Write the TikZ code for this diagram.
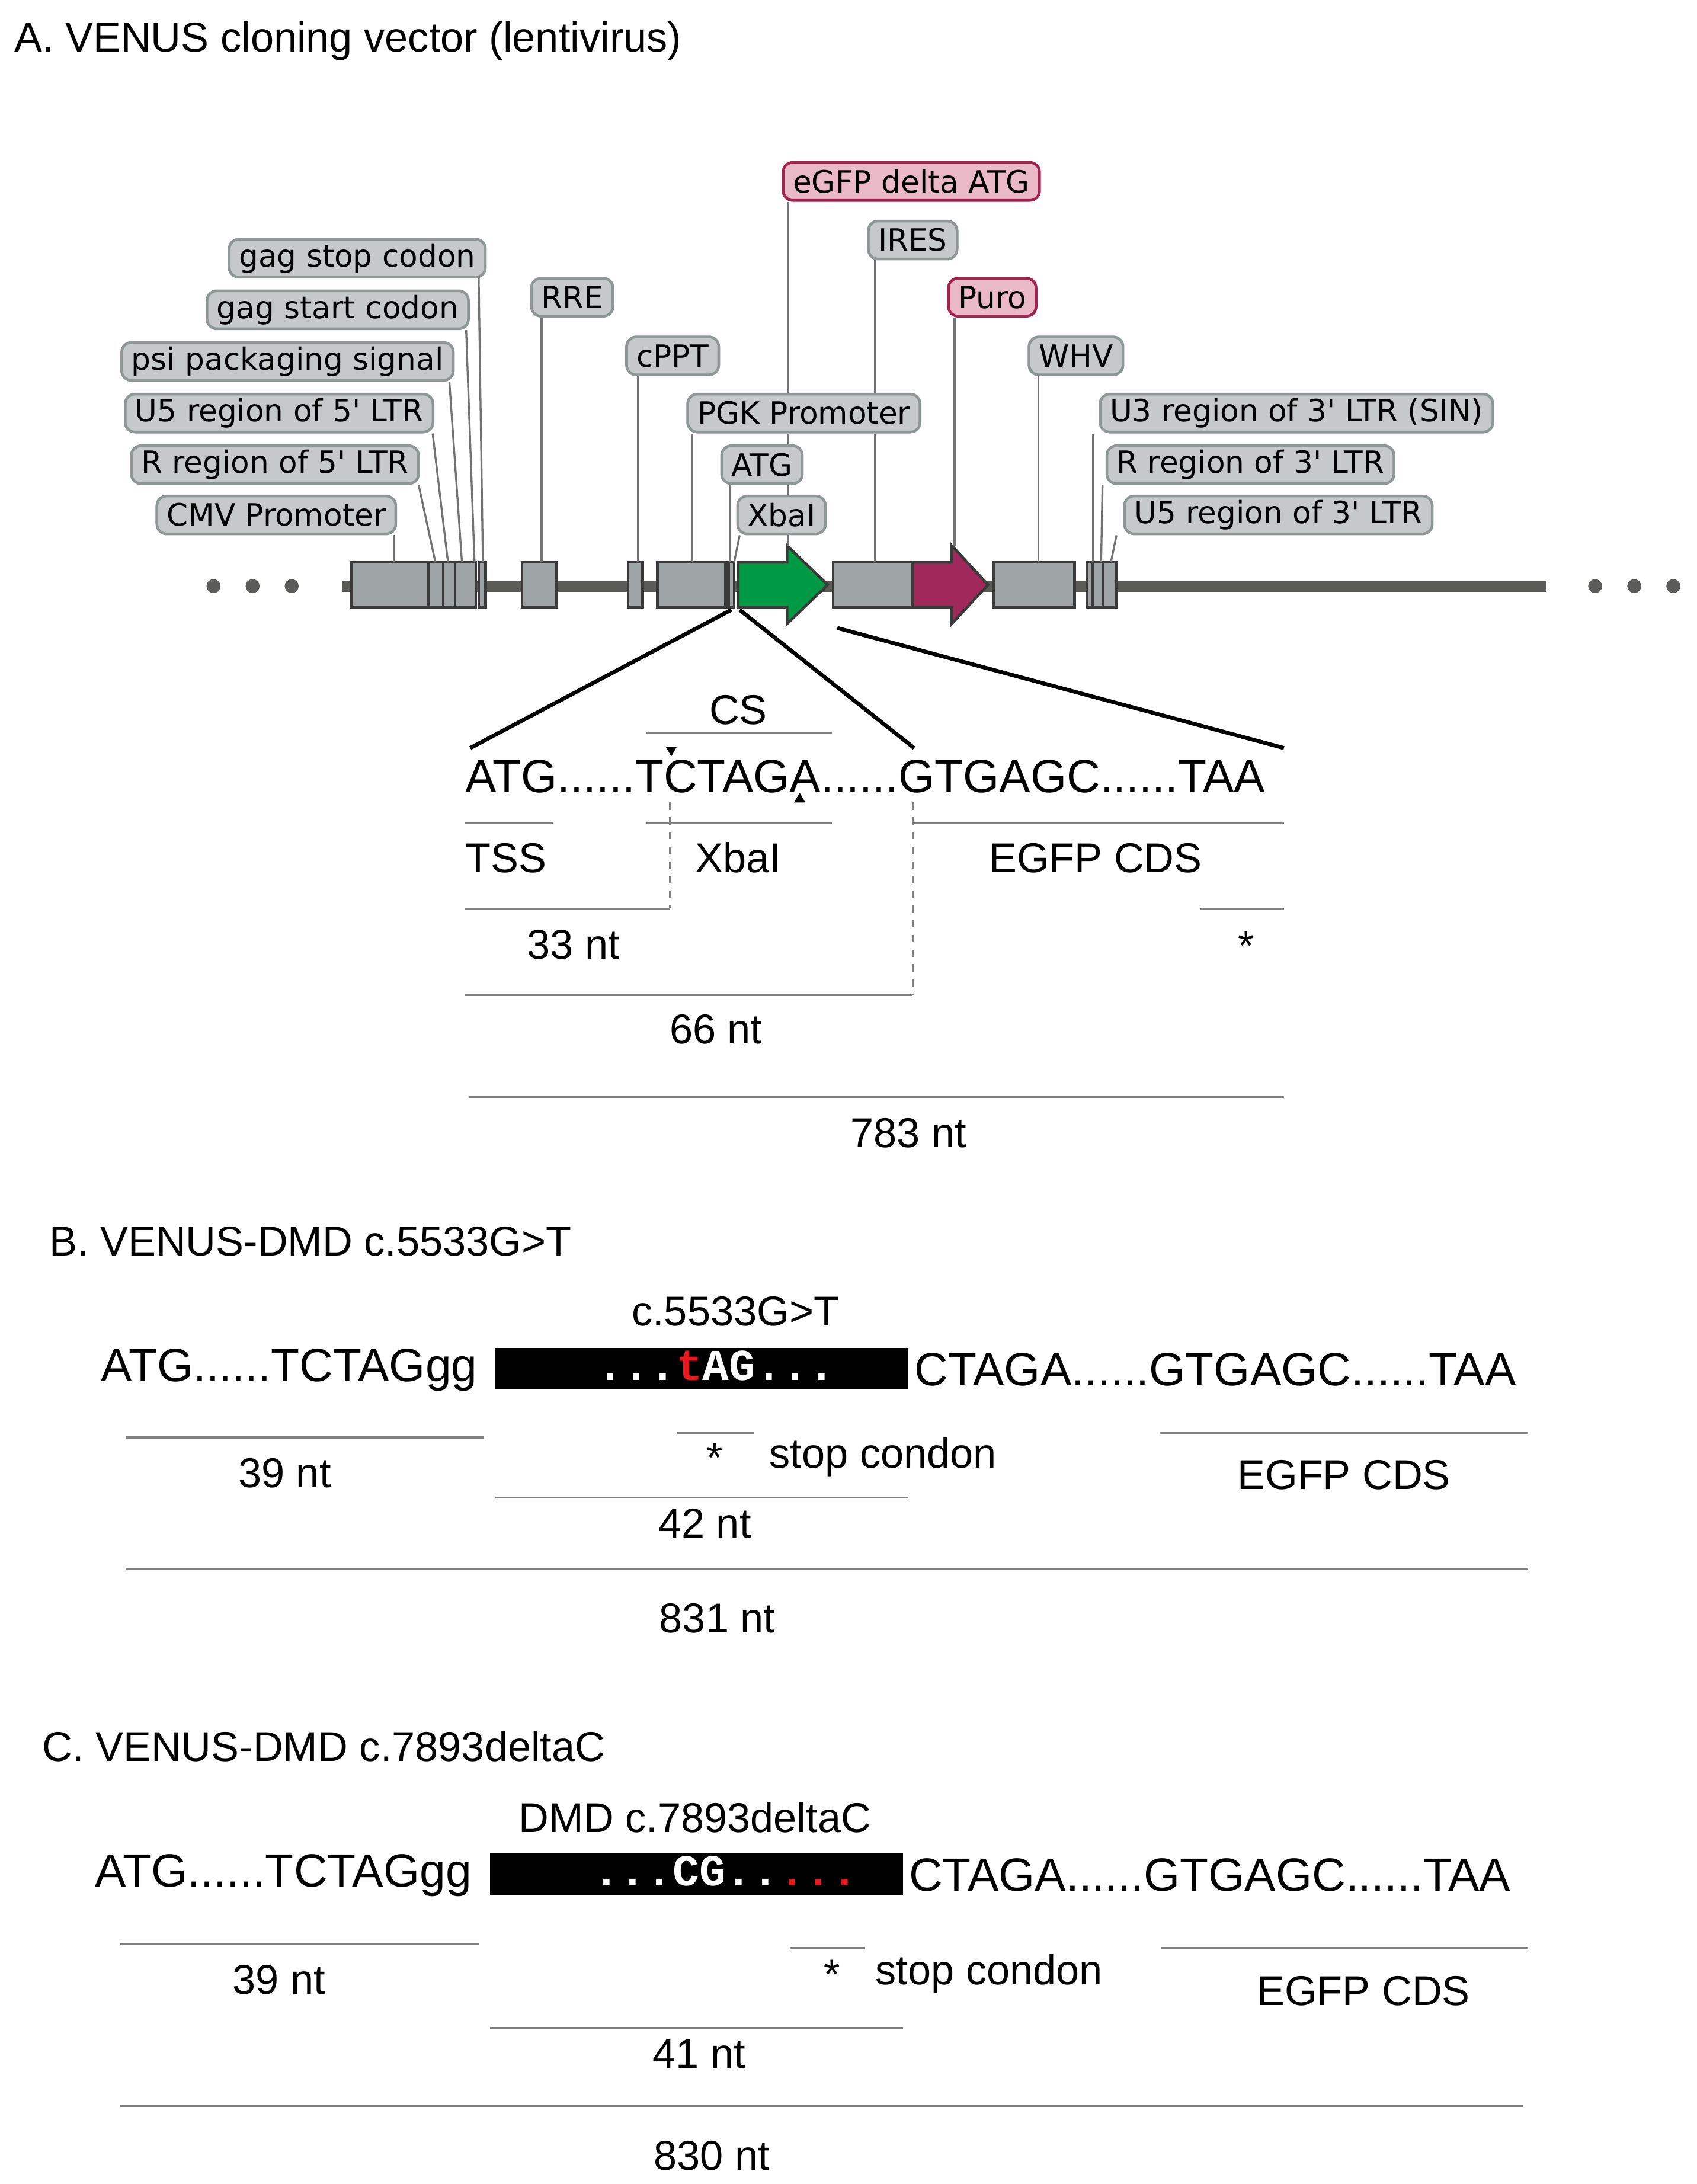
\documentclass[tikz,border=0pt]{standalone}
\usepackage{fontspec}
\setmainfont{Liberation Sans}
\newfontfamily\labfont{DejaVu Sans}
\newfontfamily\monofont{Liberation Mono}
\definecolor{lfill}{HTML}{C6C9C9}
\definecolor{ldraw}{HTML}{8E9696}
\definecolor{pfill}{HTML}{EAB9C7}
\definecolor{pdraw}{HTML}{A3234F}
\definecolor{fgray}{HTML}{9EA4A6}
\definecolor{fdark}{HTML}{3A3A3A}
\definecolor{bb}{HTML}{5B5C57}
\definecolor{egfp}{HTML}{009A44}
\definecolor{puro}{HTML}{A0285A}
\definecolor{rl}{HTML}{E8191F}
\begin{document}
\begin{tikzpicture}[x=0.02cm,y=-0.02cm,
  lab/.style={draw=ldraw,fill=lfill,line width=1.1pt,rounded corners=4pt,font=\labfont\fontsize{12.5}{14}\selectfont,inner xsep=4pt,minimum height=15.5pt,inner ysep=0pt},
  plab/.style={lab,draw=pdraw,fill=pfill},
  lead/.style={draw=gray!90!black,line width=0.8pt},
  feat/.style={draw=fdark,fill=fgray,line width=1.1pt},
  zoomln/.style={line width=1.6pt},
  gl/.style={draw=gray,line width=0.8pt},
  txt/.style={font=\fontsize{17}{20}\selectfont,inner sep=0pt},
  seq/.style={font=\fontsize{19}{22}\selectfont,inner sep=0pt},
  box/.style={font=\monofont\bfseries\fontsize{18}{20}\selectfont,text=white,inner sep=0pt}]
\useasboundingbox (0,0) rectangle (1216,1565);
% title
\node[txt,anchor=base west] (ta) at (10,37) {A. VENUS cloning vector (lentivirus)};
% backbone
\draw[bb,line width=4.5pt] (245,420) coordinate (bbl) -- (1108,420) coordinate (bbr);
\foreach \x/\n in {153/d1,181/d2,209/d3,1143/d4,1171/d5,1199/d6}
  \fill[bb] (\x,420) circle (5) coordinate (\n);
% features
\draw[feat] (252,403) rectangle (307,435);
\draw[feat] (307,403) rectangle (317.5,435);
\draw[feat] (317.5,403) rectangle (326,435);
\draw[feat] (326,403) rectangle (341,435);
\draw[feat] (343,403) rectangle (348,435);
\draw[feat] (374,403) rectangle (399,435);
\draw[feat] (450,403) rectangle (460.5,435);
\draw[feat] (471,403) rectangle (520,435);
\draw[feat] (522,403) rectangle (526,435);
\draw[fdark,fill=egfp,line width=1.1pt] (529,403) -- (564,403) -- (564,391) -- (593,419) -- (564,447) -- (564,435) -- (529,435) -- cycle;
\draw[feat] (597,403) rectangle (654,435);
\draw[fdark,fill=puro,line width=1.1pt] (654,403) -- (682,403) -- (682,391) -- (708,419) -- (682,447) -- (682,435) -- (654,435) -- cycle;
\draw[feat] (712,403) rectangle (770,435);
\draw[feat] (779,403) rectangle (800,435);
\draw[fdark,line width=0.9pt] (783,403) -- (783,435) (790.5,403) -- (790.5,435);
% labels
\node[lab] (gstop) at (256,185) {gag stop codon};
\node[lab] (gstart) at (242,222) {gag start codon};
\node[lab] (psi) at (206,259) {psi packaging signal};
\node[lab] (u5a) at (200,296) {U5 region of 5' LTR};
\node[lab] (ra) at (197,333) {R region of 5' LTR};
\node[lab] (cmv) at (198,369) {CMV Promoter};
\node[lab] (rre) at (410,213) {RRE};
\node[lab] (cppt) at (482,255) {cPPT};
\node[lab] (pgk) at (576,296) {PGK Promoter};
\node[lab] (atg) at (546,333) {ATG};
\node[lab] (xba) at (560,369) {XbaI};
\node[plab] (egl) at (653,130) {eGFP delta ATG};
\node[lab] (ires) at (654,172) {IRES};
\node[plab] (purol) at (711,213) {Puro};
\node[lab] (whv) at (771,255) {WHV};
\node[lab] (u3b) at (929,296) {U3 region of 3' LTR (SIN)};
\node[lab] (rb) at (896,333) {R region of 3' LTR};
\node[lab] (u5b) at (916,369) {U5 region of 3' LTR};
% leaders
\draw[lead] (cmv.south -| 282,0) -- (282,403);
\draw[lead] (ra.south -| 300,0) -- (312,403);
\draw[lead] (u5a.south -| 310,0) -- (321,403);
\draw[lead] (psi.south -| 322,0) -- (331,403);
\draw[lead] (gstart.south -| 334,0) -- (340,403);
\draw[lead] (gstop.south -| 343,0) -- (346,403);
\draw[lead] (rre.south -| 388,0) -- (388,403);
\draw[lead] (cppt.south -| 457,0) -- (457,403);
\draw[lead] (pgk.south -| 496,0) -- (496,403);
\draw[lead] (atg.south -| 523,0) -- (523,403);
\draw[lead] (xba.south -| 530,0) -- (526,403);
\draw[lead] (egl.south -| 565,0) -- (pgk.north -| 565,0);
\draw[lead] (pgk.south -| 565,0) -- (atg.north -| 565,0);
\draw[lead] (atg.south -| 565,0) -- (xba.north -| 565,0);
\draw[lead] (xba.south -| 565,0) -- (565,391);
\draw[lead] (ires.south -| 627,0) -- (pgk.north -| 627,0);
\draw[lead] (pgk.south -| 627,0) -- (627,403);
\draw[lead] (purol.south -| 684,0) -- (684,391);
\draw[lead] (whv.south -| 744,0) -- (744,403);
\draw[lead] (u3b.south -| 783,0) -- (783,403);
\draw[lead] (rb.south -| 790,0) -- (789,403);
\draw[lead] (u5b.south -| 800,0) -- (796,403);
% zoom lines
\draw[zoomln] (524,437) -- (337,536);
\draw[zoomln] (530,437) -- (655,536);
\draw[zoomln] (600,450) -- (920,536);
% sequence A
\node[seq,anchor=base west] (sa) at (333,568) {ATG......TCTAGA......GTGAGC......TAA};
\node[txt,anchor=base] (cs) at (529,519) {CS};
\draw[gl] (463,525) -- (596,525);
\fill (477,535) -- (485,535) -- (481,542) -- cycle;
\fill (569,575) -- (577,575) -- (573,568) -- cycle;
\draw[gl] (333,590) -- (396,590);
\draw[gl] (463,590) -- (596,590);
\draw[gl] (655,590) -- (920,590);
\node[txt,anchor=base west] (tss) at (333,625) {TSS};
\node[txt,anchor=base] (xbat) at (529,625) {XbaI};
\node[txt,anchor=base] (egA) at (785,625) {EGFP CDS};
\draw[gl,dashed] (480,575) -- (480,651);
\draw[gl] (333,651) -- (480,651);
\draw[gl] (860,651) -- (920,651);
\node[txt,anchor=base] (n33) at (411,687) {33 nt};
\node[txt,anchor=base] (stA) at (893,688) {*};
\draw[gl,dashed] (654,575) -- (654,713);
\draw[gl] (333,713) -- (654,713);
\node[txt,anchor=base] (n66) at (513,748) {66 nt};
\draw[gl] (336,786) -- (920,786);
\node[txt,anchor=base] (n783) at (651,822) {783 nt};
% B
\node[txt,anchor=base west] (tb) at (35,900) {B. VENUS-DMD c.5533G>T};
\node[txt,anchor=base] (mb) at (527,950) {c.5533G>T};
\node[seq,anchor=base west] (sb1) at (72,990) {ATG......TCTAGgg};
\fill[black] (355,966) rectangle (651,995);
\node[box,anchor=base] (bxb) at (513,989) {...{\color{rl}t}AG...};
\node[seq,anchor=base west] (sb2) at (655,993) {CTAGA......GTGAGC......TAA};
\draw[gl] (90,1030) -- (347,1030);
\draw[gl] (485,1027) -- (540,1027);
\draw[gl] (831,1027) -- (1095,1027);
\draw[gl] (355,1073) -- (651,1073);
\draw[gl] (90,1124) -- (1095,1124);
\node[txt,anchor=base] (b39) at (204,1066) {39 nt};
\node[txt,anchor=base] (bst) at (512,1055) {*};
\node[txt,anchor=base west] (bsc) at (551,1052) {stop condon};
\node[txt,anchor=base] (beg) at (963,1067) {EGFP CDS};
\node[txt,anchor=base] (b42) at (505,1102) {42 nt};
\node[txt,anchor=base] (b831) at (514,1170) {831 nt};
% C
\node[txt,anchor=base west] (tc) at (30,1262) {C. VENUS-DMD c.7893deltaC};
\node[txt,anchor=base] (mc) at (498,1313) {DMD c.7893deltaC};
\node[seq,anchor=base west] (sc1) at (68,1352) {ATG......TCTAGgg};
\fill[black] (351,1328) rectangle (647,1358);
\node[box,anchor=base] (bxc) at (520,1351) {...CG..{\color{rl}...}};
\node[seq,anchor=base west] (sc2) at (651,1355) {CTAGA......GTGAGC......TAA};
\draw[gl] (86,1393) -- (343,1393);
\draw[gl] (566,1396) -- (620,1396);
\draw[gl] (832,1396) -- (1095,1396);
\draw[gl] (351,1453) -- (647,1453);
\draw[gl] (86,1509) -- (1091,1509);
\node[txt,anchor=base] (c39) at (200,1429) {39 nt};
\node[txt,anchor=base] (cst) at (596,1425) {*};
\node[txt,anchor=base west] (csc) at (627,1422) {stop condon};
\node[txt,anchor=base] (ceg) at (977,1437) {EGFP CDS};
\node[txt,anchor=base] (c41) at (501,1482) {41 nt};
\node[txt,anchor=base] (c830) at (510,1555) {830 nt};
\end{tikzpicture}
\end{document}
